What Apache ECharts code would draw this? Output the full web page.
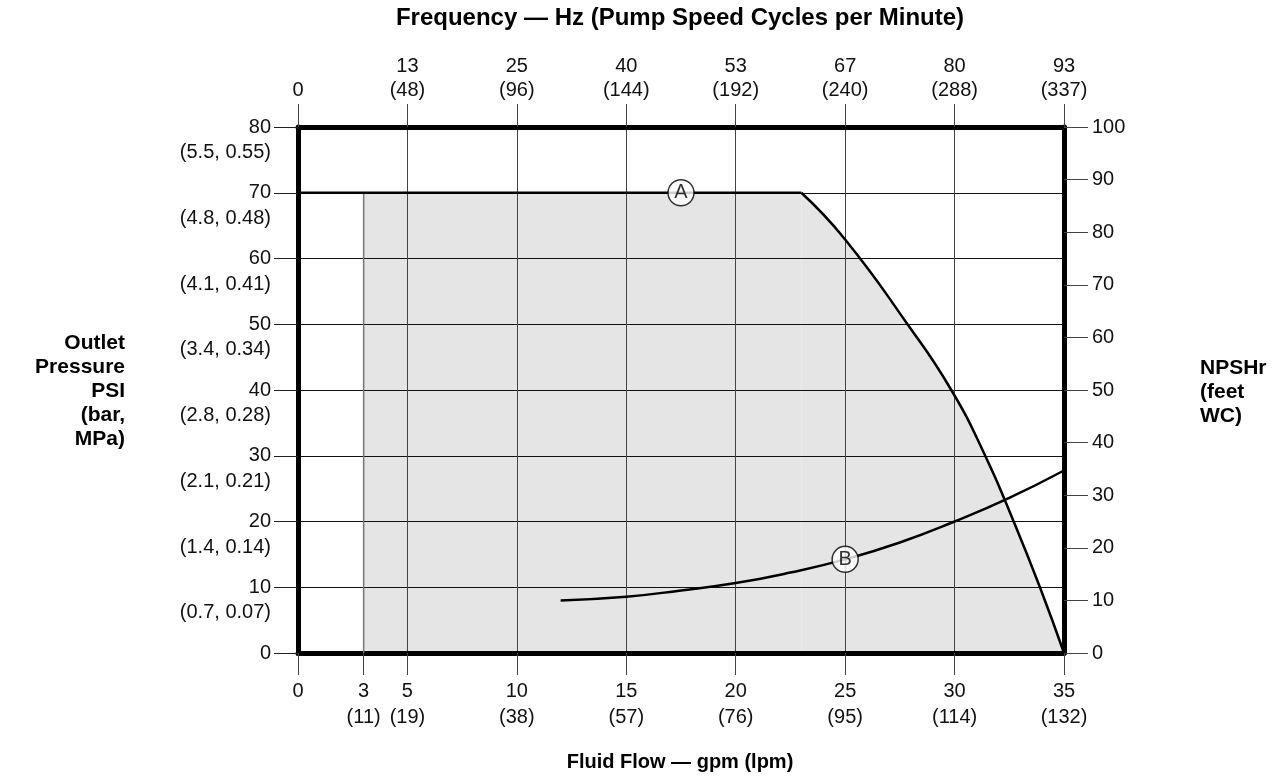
<!DOCTYPE html>
<html>
<head>
<meta charset="utf-8">
<script src="https://cdn.jsdelivr.net/npm/echarts@6/dist/echarts.min.js"></script>
<style>
  html, body { margin: 0; padding: 0; background: #fff; }
  #chart { width: 1282px; height: 780px; }
</style>
</head>
<body>
<div id="chart"></div>
<script>
// bottom axis: gpm ticks and lpm in brackets
const flowTicks = [0, 3, 5, 10, 15, 20, 25, 30, 35];
const lpmLabels = ['', '(11)', '(19)', '(38)', '(57)', '(76)', '(95)', '(114)', '(132)'];
// top axis: Hz and pump cycles per minute, one per 5 gpm
const hzLabels = ['0', '13', '25', '40', '53', '67', '80', '93'];
const cpmLabels = ['', '(48)', '(96)', '(144)', '(192)', '(240)', '(288)', '(337)'];
// left axis: psi with (bar, MPa) under it, one per 10 psi
const barLabels = ['', '(0.7, 0.07)', '(1.4, 0.14)', '(2.1, 0.21)', '(2.8, 0.28)',
  '(3.4, 0.34)', '(4.1, 0.41)', '(4.8, 0.48)', '(5.5, 0.55)'];

// curve A - outlet pressure limit (psi)
const flatFlow = [0, 23];
const flatPsi = [70, 70];
const curveFlow = [23, 25, 27.85, 29.85, 31.4, 32.7, 33.9, 35];
const curvePsi = [70, 62.9, 50, 40, 30, 20, 10, 0];
// shaded operating region starts at 3 gpm
const minFlow = 3;

// curve B - NPSHr (feet WC)
const npshFlow = [12, 15, 17.5, 20, 22.5, 25, 27.5, 30, 32.5, 35];
const npshFeet = [10, 10.7, 11.9, 13.3, 15.3, 17.8, 21.0, 25.0, 29.5, 34.7];

// where the circled letters sit
const markA = [17.5, 70];
const markB = [25, 17.8];

const FONT = '"Liberation Sans", Arial, Helvetica, sans-serif';
const zip = (xs, ys) => xs.map((x, i) => [x, ys[i]]);

const chart = echarts.init(document.getElementById('chart'));

const frame = { show: true, onZero: false, lineStyle: { color: '#000', width: 5 } };

const option = {
  animation: false,
  backgroundColor: '#fff',
  grid: { left: 298, right: 218, top: 127, bottom: 127, containLabel: false },
  xAxis: [
    {
      type: 'value', position: 'bottom', min: 0, max: 35, interval: 5, z: 3,
      axisLine: frame,
      axisTick: { show: true, length: 22, customValues: flowTicks, lineStyle: { color: '#444', width: 1 } },
      axisLabel: {
        customValues: flowTicks, margin: 25, color: '#111', fontFamily: FONT, fontSize: 20, lineHeight: 26,
        showMinLabel: true, showMaxLabel: true,
        formatter: v => v + '\n' + lpmLabels[flowTicks.indexOf(v)]
      },
      splitLine: { show: false }
    },
    {
      type: 'value', position: 'top', min: 0, max: 35, interval: 5, z: 3,
      axisLine: frame,
      axisTick: { show: true, length: 23, lineStyle: { color: '#444', width: 1 } },
      axisLabel: {
        margin: 25, color: '#111', fontFamily: FONT, fontSize: 20, lineHeight: 24,
        showMinLabel: true, showMaxLabel: true,
        formatter: v => {
          const i = Math.round(v / 5);
          return cpmLabels[i] ? hzLabels[i] + '\n' + cpmLabels[i] : hzLabels[i];
        }
      },
      splitLine: { show: true, lineStyle: { color: '#444', width: 1 } }
    }
  ],
  yAxis: [
    {
      type: 'value', position: 'left', min: 0, max: 80, interval: 10, z: 3,
      axisLine: frame,
      axisTick: { show: true, length: 24, lineStyle: { color: '#222', width: 1 } },
      axisLabel: {
        margin: 27, color: '#111', fontFamily: FONT, fontSize: 20,
        showMinLabel: true, showMaxLabel: true
      },
      splitLine: { show: true, lineStyle: { color: '#111', width: 1 } }
    },
    {
      type: 'value', position: 'right', min: 0, max: 100, interval: 10, z: 3,
      axisLine: frame,
      axisTick: { show: true, length: 24, lineStyle: { color: '#444', width: 1 } },
      axisLabel: { margin: 28, color: '#111', fontFamily: FONT, fontSize: 20, showMinLabel: true, showMaxLabel: true },
      splitLine: { show: false }
    },
    {
      // second line of the left labels: (bar, MPa)
      type: 'value', position: 'left', offset: 0, min: 0, max: 80, interval: 10, z: 3,
      axisLine: { show: false, onZero: false },
      axisTick: { show: false },
      splitLine: { show: false },
      axisLabel: {
        margin: 27, color: '#111', fontFamily: FONT, fontSize: 20, lineHeight: 25,
        verticalAlign: 'top', padding: [13, 0, 0, 0],
        showMinLabel: true, showMaxLabel: true,
        formatter: v => barLabels[Math.round(v / 10)]
      }
    }
  ],
  series: [
    // shaded region
    {
      type: 'line', xAxisIndex: 0, yAxisIndex: 0, z: 1, symbol: 'none', silent: true,
      data: zip([minFlow, flatFlow[1]], [flatPsi[0], flatPsi[1]]),
      lineStyle: { width: 0 }, areaStyle: { color: '#e5e5e5', opacity: 1 }
    },
    {
      type: 'line', xAxisIndex: 0, yAxisIndex: 0, z: 1, symbol: 'none', silent: true, smooth: 0.5,
      data: zip(curveFlow, curvePsi),
      lineStyle: { width: 0 }, areaStyle: { color: '#e5e5e5', opacity: 1 }
    },
    // left edge of the region
    {
      type: 'line', xAxisIndex: 0, yAxisIndex: 0, z: 3, symbol: 'none', silent: true,
      data: [[minFlow, 0], [minFlow, flatPsi[0]]],
      lineStyle: { color: '#777', width: 1.5 }
    },
    // curve A
    {
      type: 'line', xAxisIndex: 0, yAxisIndex: 0, z: 5, symbol: 'none', silent: true,
      data: zip(flatFlow, flatPsi),
      lineStyle: { color: '#000', width: 2.5 }
    },
    {
      type: 'line', xAxisIndex: 0, yAxisIndex: 0, z: 5, symbol: 'none', silent: true, smooth: 0.5,
      data: zip(curveFlow, curvePsi),
      lineStyle: { color: '#000', width: 2.5 }
    },
    // curve B
    {
      type: 'line', xAxisIndex: 0, yAxisIndex: 1, z: 5, symbol: 'none', silent: true, smooth: 0.5,
      data: zip(npshFlow, npshFeet),
      lineStyle: { color: '#000', width: 2.5 }
    },
    // circled letters
    {
      type: 'scatter', xAxisIndex: 0, yAxisIndex: 0, z: 6, symbol: 'circle', symbolSize: 26, silent: true,
      data: [markA],
      itemStyle: { color: '#fff', borderColor: '#000', borderWidth: 1.5 },
      label: { show: true, position: 'inside', formatter: 'A', color: '#000', fontFamily: FONT, fontSize: 20 }
    },
    {
      type: 'scatter', xAxisIndex: 0, yAxisIndex: 1, z: 6, symbol: 'circle', symbolSize: 26, silent: true,
      data: [markB],
      itemStyle: { color: '#fff', borderColor: '#000', borderWidth: 1.5 },
      label: { show: true, position: 'inside', formatter: 'B', color: '#000', fontFamily: FONT, fontSize: 20 }
    }
  ],
  graphic: [
    {
      type: 'text', x: 680, y: 18,
      style: { text: 'Frequency — Hz (Pump Speed Cycles per Minute)', fill: '#000',
        font: 'bold 24px ' + FONT, textAlign: 'center', align: 'center', textVerticalAlign: 'middle', verticalAlign: 'middle' }
    },
    {
      type: 'text', x: 680, y: 762,
      style: { text: 'Fluid Flow — gpm (lpm)', fill: '#000',
        font: 'bold 20px ' + FONT, textAlign: 'center', align: 'center', textVerticalAlign: 'middle', verticalAlign: 'middle' }
    },
    {
      type: 'text', x: 125, y: 391,
      style: { text: 'Outlet\nPressure\nPSI\n(bar,\nMPa)', fill: '#000', lineHeight: 24,
        font: 'bold 21px ' + FONT, textAlign: 'right', align: 'right', textVerticalAlign: 'middle', verticalAlign: 'middle' }
    },
    {
      type: 'text', x: 1200, y: 392,
      style: { text: 'NPSHr\n(feet\nWC)', fill: '#000', lineHeight: 24,
        font: 'bold 21px ' + FONT, textAlign: 'left', align: 'left', textVerticalAlign: 'middle', verticalAlign: 'middle' }
    }
  ]
};

chart.setOption(option);
</script>
</body>
</html>
